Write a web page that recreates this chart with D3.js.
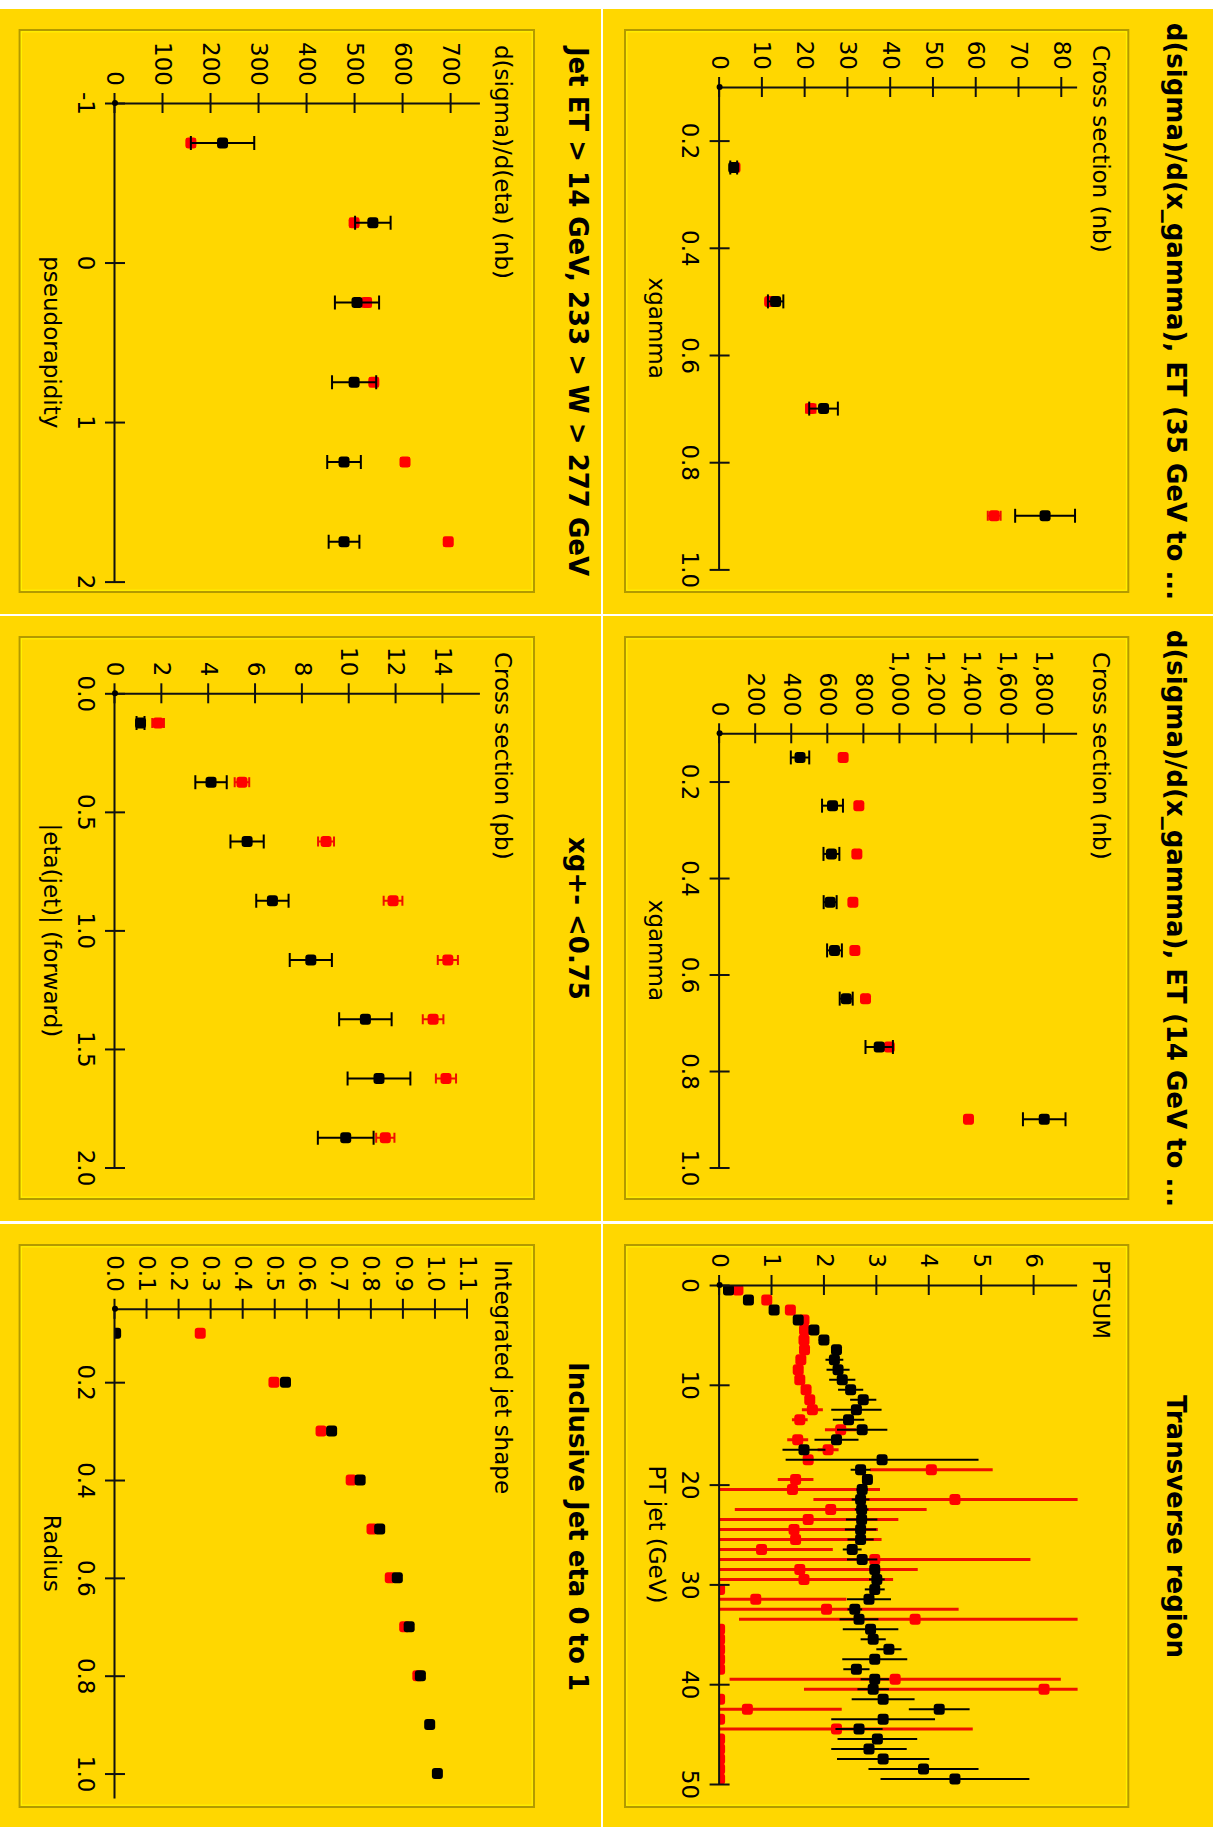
<!DOCTYPE html>
<html>
<head>
<meta charset="utf-8">
<script src="https://cdn.jsdelivr.net/npm/d3@7"></script>
<style>
  html, body { margin: 0; padding: 0; background: #fff; }
  svg { display: block; }
</style>
</head>
<body>
<div id="chart"></div>
<script>
// ---- data ----
// d(sigma)/d(x_gamma), ET 35 GeV
const xg35X = [0.25, 0.5, 0.7, 0.9];
const xg35Data = [3.3, 13.1, 24.3, 76.1];
const xg35DataErr = [0.8, 1.8, 3.35, 7.0];
const xg35Mc = [3.6, 11.7, 21.3, 64.2];
const xg35McErr = [0.4, 0.5, 1.1, 1.5];
const xg35XTicks = [0.2, 0.4, 0.6, 0.8, 1.0];
const xg35YTicks = [0, 10, 20, 30, 40, 50, 60, 70, 80];

// d(sigma)/d(x_gamma), ET 14 GeV
const xg14X = [0.15, 0.25, 0.35, 0.45, 0.55, 0.65, 0.75, 0.9];
const xg14Data = [446, 626, 620, 613, 637, 702, 885, 1800];
const xg14DataErr = [51, 58, 44, 36, 41, 36, 76, 118];
const xg14Mc = [685, 772, 761, 739, 750, 809, 941, 1380];
const xg14McErr = [12, 12, 12, 12, 12, 12, 15, 15];
const xg14XTicks = [0.2, 0.4, 0.6, 0.8, 1.0];
const xg14YTicks = [0, 200, 400, 600, 800, 1000, 1200, 1400, 1600, 1800];

// Transverse region
const ptX = [0.5, 1.5, 2.5, 3.5, 4.5, 5.5, 6.5, 7.5, 8.5, 9.5,
  10.5, 11.5, 12.5, 13.5, 14.5, 15.5, 16.5, 17.5, 18.5, 19.5,
  20.5, 21.5, 22.5, 23.5, 24.5, 25.5, 26.5, 27.5, 28.5, 29.5,
  30.5, 31.5, 32.5, 33.5, 34.5, 35.5, 36.5, 37.5, 38.5, 39.5,
  40.5, 41.5, 42.5, 43.5, 44.5, 45.5, 46.5, 47.5, 48.5, 49.5];
const ptsumData = [0.17, 0.55, 1.04, 1.50, 1.80, 1.99, 2.23, 2.19, 2.26, 2.34,
  2.50, 2.74, 2.61, 2.46, 2.72, 2.23, 1.61, 3.10, 2.69, 2.82,
  2.72, 2.69, 2.71, 2.71, 2.69, 2.69, 2.53, 2.72, 2.96, 3.00,
  2.96, 2.85, 2.58, 2.66, 2.88, 2.93, 3.23, 2.96, 2.61, 2.96,
  2.93, 3.12, 4.19, 3.12, 2.66, 3.01, 2.85, 3.12, 3.89, 4.49];
const ptsumDataErr = [0.03, 0.03, 0.05, 0.06, 0.08, 0.1, 0.1, 0.17, 0.22, 0.25,
  0.24, 0.25, 0.48, 0.3, 0.48, 0.42, 0.41, 1.84, 0.19, 0.1,
  0.11, 0.17, 0.13, 0.3, 0.3, 0.25, 0.18, 0.29, 0.1, 0.15,
  0.19, 0.42, 0.14, 0.37, 0.53, 0.24, 0.24, 0.62, 0.25, 0.27,
  0.3, 0.6, 0.58, 0.99, 0.45, 0.76, 0.72, 0.88, 1.05, 1.42];
const ptsumMc = [0.35, 0.90, 1.35, 1.61, 1.62, 1.61, 1.62, 1.55, 1.50, 1.53,
  1.65, 1.72, 1.77, 1.53, 2.31, 1.49, 2.07, 1.69, 4.04, 1.45,
  1.39, 4.49, 2.12, 1.69, 1.42, 1.45, 0.80, 2.96, 1.53, 1.61,
  0, 0.69, 2.04, 3.73, 0, 0, 0, 0, 0, 3.35,
  6.19, 0, 0.53, 0, 2.23, 0, 0, 0, 0, 0];
const ptsumMcErr = [0.03, 0.04, 0.05, 0.06, 0.06, 0.06, 0.06, 0.06, 0.06, 0.06,
  0.08, 0.08, 0.2, 0.15, 0.3, 0.2, 0.2, 0.08, 1.17, 0.34,
  1.67, 2.7, 1.83, 1.72, 1.6, 1.64, 1.36, 2.97, 2.25, 1.7,
  0, 1.73, 2.52, 3.36, 0, 0, 0, 0, 0, 3.16,
  4.58, 0, 1.8, 0, 2.6, 0, 0, 0, 0, 0];
const ptXTicks = [0, 10, 20, 30, 40, 50];
const ptYTicks = [0, 1, 2, 3, 4, 5, 6];

// Jet ET > 14 GeV, pseudorapidity
const etaX = [-0.75, -0.25, 0.25, 0.75, 1.25, 1.75];
const etaData = [224, 537, 504, 498, 477, 477];
const etaDataErr = [66, 37, 46, 46, 35, 32];
const etaMc = [158, 498, 524, 539, 604, 694];
const etaMcErr = [8, 8, 8, 8, 8, 8];
const etaXTicks = [-1, 0, 1, 2];
const etaYTicks = [0, 100, 200, 300, 400, 500, 600, 700];

// xg < 0.75, |eta(jet)| forward
const fwdX = [0.125, 0.375, 0.625, 0.875, 1.125, 1.375, 1.625, 1.875];
const fwdData = [1.09, 4.10, 5.64, 6.72, 8.36, 10.69, 11.27, 9.85];
const fwdDataErr = [0.17, 0.67, 0.71, 0.69, 0.9, 1.12, 1.34, 1.19];
const fwdMc = [1.84, 5.42, 9.01, 11.87, 14.21, 13.58, 14.13, 11.54];
const fwdMcErr = [0.25, 0.31, 0.34, 0.4, 0.43, 0.44, 0.43, 0.39];
const fwdXTicks = [0, 0.5, 1.0, 1.5, 2.0];
const fwdYTicks = [0, 2, 4, 6, 8, 10, 12, 14];

// Inclusive jet shape
const shapeX = [0.1, 0.2, 0.3, 0.4, 0.5, 0.6, 0.7, 0.8, 0.9, 1.0];
const shapeData = [0.002, 0.532, 0.676, 0.765, 0.826, 0.881, 0.918, 0.953, 0.982, 1.006];
const shapeMcX = [0.1, 0.2, 0.3, 0.4, 0.5, 0.6, 0.7, 0.8];
const shapeMc = [0.266, 0.496, 0.643, 0.737, 0.802, 0.859, 0.904, 0.945];
const shapeXTicks = [0.2, 0.4, 0.6, 0.8, 1.0];
const shapeYTicks = [0, 0.1, 0.2, 0.3, 0.4, 0.5, 0.6, 0.7, 0.8, 0.9, 1.0, 1.1];

// ---- layout (the chart is drawn landscape, then turned a quarter turn) ----
const W = 1827, H = 1213;
const cols = [9, 616, 1224];
const panelW = 605;
const rows = [
  { top: 0, height: 610, titleY: 46.5, boxTop: 84.7, boxBottom: 588, yTitleY: 120, axisTop: 135.4, axisBottom: 493.4 },
  { top: 612, height: 601, titleY: 644.5, boxTop: 679, boxBottom: 1193.4, yTitleY: 718, axisTop: 732.6, axisBottom: 1098 }
];
const gold = "#ffd700";
const red = "#ff0000";
const ink = "#111";
const font = "'DejaVu Sans', sans-serif";
const textSize = "23px";
const markSize = 11;

const f1 = d3.format(".1f");
const fComma = d3.format(",");
const fPlain = d => String(d);

const panels = [
  { col: 0, row: 0, title: "d(sigma)/d(x_gamma), ET (35 GeV to ...", yLabel: "Cross section (nb)", xLabel: "xgamma",
    left: 78, right: 560.4, xDomain: [0.1, 1.0], yMax: 83.7, xTicks: xg35XTicks, yTicks: xg35YTicks, xFmt: f1, yFmt: fPlain, caps: true,
    series: [{ x: xg35X, y: xg35Mc, err: xg35McErr, color: red }, { x: xg35X, y: xg35Data, err: xg35DataErr, color: "#000" }] },
  { col: 1, row: 0, title: "d(sigma)/d(x_gamma), ET (14 GeV to ...", yLabel: "Cross section (nb)", xLabel: "xgamma",
    left: 117.3, right: 551.5, xDomain: [0.1, 1.0], yMax: 1985, xTicks: xg14XTicks, yTicks: xg14YTicks, xFmt: f1, yFmt: fComma, caps: true,
    series: [{ x: xg14X, y: xg14Mc, err: xg14McErr, color: red }, { x: xg14X, y: xg14Data, err: xg14DataErr, color: "#000" }] },
  { col: 2, row: 0, title: "Transverse region", yLabel: "PTSUM", xLabel: "PT jet (GeV)",
    left: 61, right: 560, xDomain: [0, 50], yMax: 6.83, xTicks: ptXTicks, yTicks: ptYTicks, xFmt: fPlain, yFmt: fPlain, caps: false,
    series: [{ x: ptX, y: ptsumMc, err: ptsumMcErr, color: red }, { x: ptX, y: ptsumData, err: ptsumDataErr, color: "#000" }] },
  { col: 0, row: 1, title: "Jet ET > 14 GeV, 233 > W > 277 GeV", yLabel: "d(sigma)/d(eta) (nb)", xLabel: "pseudorapidity",
    left: 94, right: 572.6, xDomain: [-1, 2], yMax: 761, xTicks: etaXTicks, yTicks: etaYTicks, xFmt: fPlain, yFmt: fPlain, caps: true,
    series: [{ x: etaX, y: etaMc, err: etaMcErr, color: red }, { x: etaX, y: etaData, err: etaDataErr, color: "#000" }] },
  { col: 1, row: 1, title: "xg+- <0.75", yLabel: "Cross section (pb)", xLabel: "|eta(jet)| (forward)",
    left: 77.3, right: 551.5, xDomain: [0, 2], yMax: 15.6, xTicks: fwdXTicks, yTicks: fwdYTicks, xFmt: f1, yFmt: fPlain, caps: true,
    series: [{ x: fwdX, y: fwdMc, err: fwdMcErr, color: red }, { x: fwdX, y: fwdData, err: fwdDataErr, color: "#000" }] },
  { col: 2, row: 1, title: "Inclusive Jet eta 0 to 1", yLabel: "Integrated jet shape", xLabel: "Radius",
    left: 84.8, right: 574, xDomain: [0.05, 1.05], yMax: 1.1, yTop: 745.5, xTicks: shapeXTicks, yTicks: shapeYTicks, xFmt: f1, yFmt: f1, caps: false,
    series: [{ x: shapeMcX, y: shapeMc, err: null, color: red }, { x: shapeX, y: shapeData, err: null, color: "#000" }] }
];

const svg = d3.select("#chart")
  .append("svg")
  .attr("width", H)
  .attr("height", W);

// quarter turn clockwise: (u, v) -> (H - v, u)
const root = svg.append("g")
  .attr("transform", `translate(${H},0) rotate(90)`);

root.append("rect")
  .attr("width", W)
  .attr("height", H)
  .attr("fill", "#fff");

panels.forEach((p, i) => {
  const r = rows[p.row];
  const g = root.append("g").attr("transform", `translate(${cols[p.col]},0)`);

  g.append("rect")
    .attr("x", 0).attr("y", r.top)
    .attr("width", panelW).attr("height", r.height)
    .attr("fill", gold);

  // bevelled frame
  g.append("rect")
    .attr("x", 21).attr("y", r.boxTop)
    .attr("width", 562).attr("height", r.boxBottom - r.boxTop)
    .attr("fill", "none").attr("stroke", "#b39a00").attr("stroke-width", 2);
  g.append("rect")
    .attr("x", 22.8).attr("y", r.boxTop + 1.8)
    .attr("width", 558.4).attr("height", r.boxBottom - r.boxTop - 3.6)
    .attr("fill", "none").attr("stroke", "#fff000").attr("stroke-width", 1.2);

  g.append("text")
    .attr("x", panelW / 2).attr("y", r.titleY)
    .attr("text-anchor", "middle")
    .style("font-family", font).style("font-size", "26px").style("font-weight", "bold")
    .attr("fill", "#000")
    .text(p.title);

  g.append("text")
    .attr("x", 36).attr("y", r.yTitleY)
    .style("font-family", font).style("font-size", textSize)
    .attr("fill", "#000")
    .text(p.yLabel);

  const x = d3.scaleLinear().domain(p.xDomain).range([p.left, p.right]);
  const y = d3.scaleLinear().domain([0, p.yMax]).range([r.axisBottom, p.yTop || r.axisTop]);

  g.append("text")
    .attr("x", (p.left + p.right) / 2).attr("y", r.axisBottom + 71)
    .attr("text-anchor", "middle")
    .style("font-family", font).style("font-size", textSize)
    .attr("fill", "#000")
    .text(p.xLabel);

  // data, clipped to the plot area
  const clipId = "clip" + i;
  g.append("clipPath").attr("id", clipId)
    .append("rect")
    .attr("x", p.left).attr("y", y.range()[1])
    .attr("width", p.right - p.left + 12)
    .attr("height", r.axisBottom - y.range()[1]);

  const plot = g.append("g").attr("clip-path", `url(#${clipId})`);

  p.series.forEach(s => {
    const pts = s.x.map((xv, k) => ({ x: xv, y: s.y[k], e: s.err ? s.err[k] : 0 }));
    const isRed = s.color === red;
    const withErr = pts.filter(d => d.e > 0);

    plot.append("g").selectAll("line")
      .data(withErr)
      .join("line")
      .attr("x1", d => x(d.x)).attr("x2", d => x(d.x))
      .attr("y1", d => y(d.y - d.e)).attr("y2", d => y(d.y + d.e))
      .attr("stroke", isRed ? "#ee1000" : "#000")
      .attr("stroke-width", isRed && !p.caps ? 3 : 2);

    if (p.caps) {
      const capW = isRed ? 5 : 7;
      const caps = withErr.flatMap(d => [{ x: d.x, v: d.y - d.e }, { x: d.x, v: d.y + d.e }]);
      plot.append("g").selectAll("line")
        .data(caps)
        .join("line")
        .attr("x1", d => x(d.x) - capW).attr("x2", d => x(d.x) + capW)
        .attr("y1", d => y(d.v)).attr("y2", d => y(d.v))
        .attr("stroke", isRed ? "#ee1000" : "#000")
        .attr("stroke-width", 2);
    }

    plot.append("g").selectAll("rect")
      .data(pts)
      .join("rect")
      .attr("x", d => x(d.x) - markSize / 2).attr("y", d => y(d.y) - markSize / 2)
      .attr("width", markSize).attr("height", markSize)
      .attr("rx", 3)
      .attr("fill", s.color);
  });

  // axes with ticks crossing the line
  const yAxis = d3.axisLeft(y)
    .tickValues(p.yTicks).tickFormat(p.yFmt)
    .tickSize(10).tickSizeOuter(0).tickPadding(7);
  const xAxis = d3.axisBottom(x)
    .tickValues(p.xTicks).tickFormat(p.xFmt)
    .tickSize(10).tickSizeOuter(0).tickPadding(11);

  const ya = g.append("g").attr("transform", `translate(${p.left},0)`).call(yAxis);
  ya.selectAll(".tick line").attr("x1", 10);
  const xa = g.append("g").attr("transform", `translate(0,${r.axisBottom})`).call(xAxis);
  xa.selectAll(".tick line").attr("y1", -10);

  [ya, xa].forEach(a => {
    a.attr("font-family", null).attr("font-size", null);
    a.select(".domain").attr("stroke", ink).attr("stroke-width", 2);
    a.selectAll(".tick line").attr("stroke", ink).attr("stroke-width", 2);
    a.selectAll(".tick text")
      .style("font-family", font).style("font-size", textSize)
      .attr("fill", "#000");
  });

  g.append("circle")
    .attr("cx", x(p.xDomain[0])).attr("cy", y(0))
    .attr("r", 3)
    .attr("fill", "#000");
});
</script>
</body>
</html>
